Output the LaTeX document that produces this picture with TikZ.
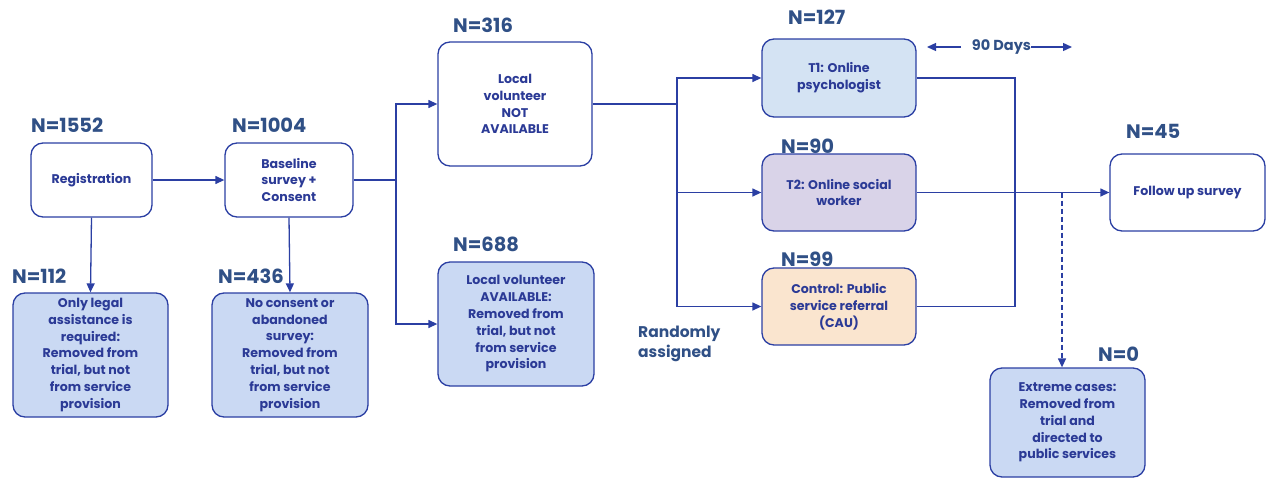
\documentclass[tikz,border=0pt]{standalone}
\usepackage{fontspec}
\setmainfont{Poppins}
\usetikzlibrary{arrows.meta}
\definecolor{ln}{HTML}{2B3FA3}
\definecolor{tx}{HTML}{2B3A96}
\definecolor{nl}{HTML}{305086}
\definecolor{fblue}{HTML}{CAD9F3}
\definecolor{ft1}{HTML}{D4E3F3}
\definecolor{ft2}{HTML}{D9D3E8}
\definecolor{fctl}{HTML}{FAE5CF}
\tikzset{
  box/.style={draw=ln, line width=1.3pt, rounded corners=12pt, align=center, text=tx,
    font=\fontsize{12.6}{16.8}\selectfont\bfseries, inner sep=0pt},
  nlab/.style={text=nl, font=\fontsize{19.5}{22}\selectfont\bfseries, inner sep=0pt, anchor=west},
  conn/.style={draw=ln, line width=1.3pt},
  arr/.style={conn, -{Triangle[length=9pt,width=8pt]}},
}
\begin{document}
\begin{tikzpicture}[x=1pt,y=-1pt]
\useasboundingbox (0,0) rectangle (1270,479);
\node[box, fill=white, minimum width=121pt, minimum height=74pt] (reg) at (91.5,180) {Registration};
\node[box, fill=white, minimum width=128pt, minimum height=74pt] (base) at (289,180) {Baseline\\survey +\\Consent};
\node[box, fill=fblue, minimum width=155pt, minimum height=124pt] (legal) at (90.5,355) {Only legal\\assistance is\\required:\\Removed from\\trial, but not\\from service\\provision};
\node[box, fill=fblue, minimum width=156pt, minimum height=124pt] (nocon) at (290,355) {No consent or\\abandoned\\survey:\\Removed from\\trial, but not\\from service\\provision};
\node[box, fill=white, minimum width=154pt, minimum height=124pt] (notav) at (515,104) {Local\\volunteer\\NOT\\AVAILABLE};
\node[box, fill=fblue, minimum width=156pt, minimum height=124pt] (av) at (516,324) {Local volunteer\\AVAILABLE:\\Removed from\\trial, but not\\from service\\provision};
\node[box, fill=ft1, minimum width=154pt, minimum height=78pt] (t1) at (839,78) {T1: Online\\psychologist};
\node[box, fill=ft2, minimum width=154pt, minimum height=77pt] (t2) at (839,192.5) {T2: Online social\\worker};
\node[box, fill=fctl, minimum width=154pt, minimum height=77pt] (ctl) at (839,306.5) {Control: Public\\service referral\\(CAU)};
\node[box, fill=white, minimum width=155pt, minimum height=77pt] (fu) at (1187.5,192.5) {Follow up survey};
\node[box, fill=fblue, minimum width=155pt, minimum height=109pt] (ext) at (1067.5,422.5) {Extreme cases:\\Removed from\\trial and\\directed to\\public services};
% N labels
\node[nlab] (n1) at (31,125) {N=1552};
\node[nlab] (n2) at (232,125) {N=1004};
\node[nlab] (n3) at (12,276) {N=112};
\node[nlab] (n4) at (218,276) {N=436};
\node[nlab] (n5) at (453,25) {N=316};
\node[nlab] (n6) at (453,244) {N=688};
\node[nlab] (n7) at (788,17) {N=127};
\node[nlab] (n8) at (781,146) {N=90};
\node[nlab] (n9) at (781,259) {N=99};
\node[nlab] (n10) at (1126,131) {N=45};
\node[nlab] (n11) at (1098,354) {N=0};
\node[text=nl, font=\fontsize{15.5}{20}\selectfont\bfseries, align=left, inner sep=0pt, anchor=north west] (rand) at (638,326) {Randomly\\assigned};
\node[text=nl, font=\fontsize{14.5}{16}\selectfont\bfseries, inner sep=0pt] (days) at (1001.5,47) {90 Days};
\coordinate (dl) at (927,47);
\coordinate (dl0) at (961,47);
\coordinate (dr) at (1072,47);
% connectors
\draw[arr] (reg) -- (base);
\draw[arr] (reg.south) -- (legal.north);
\draw[arr] (base.south) -- (nocon.north);
\coordinate (j1) at (396,180);
\draw[conn] (base.east) -- (j1);
\draw[arr] (j1) |- (notav.west);
\draw[arr] (j1) |- (av.west);
\coordinate (j2) at (677,104);
\draw[conn] (notav.east) -- (j2);
\draw[arr] (j2) |- (t1.west);
\draw[arr] (j2) |- (t2.west);
\draw[arr] (j2) |- (ctl.west);
\coordinate (j3) at (1015,192.5);
\draw[conn] (t1.east) -| (j3);
\draw[conn] (ctl.east) -| (j3);
\draw[arr] (t2.east) -- (fu.west);
\coordinate (j4) at (1062,192.5);
\draw[arr, dash pattern=on 5pt off 3pt] (j4) -- (ext.north -| j4);
\draw[arr] (dl0) -- (dl);
\draw[arr] (days.east) -- (dr);
\end{tikzpicture}
\end{document}
